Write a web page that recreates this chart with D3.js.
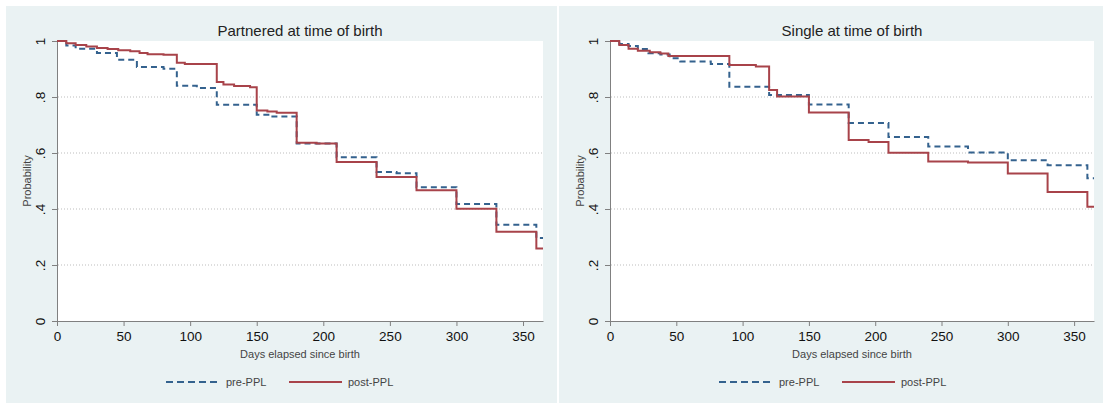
<!DOCTYPE html>
<html>
<head>
<meta charset="utf-8">
<script src="https://cdn.jsdelivr.net/npm/d3@7"></script>
<style>
  body { margin: 0; background: #fff; }
  svg { display: block; font-family: "Liberation Sans", Arial, sans-serif; }
</style>
</head>
<body>
<script>
// survival estimates: [day, probability], step after
var partneredPre = [[0,1],[7,.984],[14,.972],[30,.957],[45,.933],[60,.907],[80,.901],[90,.840],[105,.832],
  [120,.772],[150,.737],[160,.730],[180,.634],[210,.585],[240,.532],[255,.528],[270,.478],[300,.418],[330,.344],[360,.296]];
var partneredPost = [[0,1],[7,.992],[14,.986],[22,.980],[30,.975],[38,.971],[46,.967],[55,.963],[62,.957],[68,.953],
  [80,.951],[90,.922],[96,.918],[120,.854],[125,.845],[133,.839],[145,.835],[150,.752],[158,.748],[165,.744],
  [180,.637],[195,.634],[210,.568],[240,.514],[270,.467],[300,.401],[330,.319],[360,.259]];
var singlePre = [[0,1],[7,.989],[14,.982],[21,.971],[29,.956],[38,.952],[45,.938],[53,.927],[76,.918],[90,.837],
  [120,.807],[150,.773],[180,.707],[210,.657],[240,.623],[270,.602],[300,.574],[330,.556],[360,.510]];
var singlePost = [[0,1],[7,.986],[14,.972],[21,.965],[30,.960],[38,.955],[44,.946],[90,.914],[110,.909],[120,.825],
  [126,.802],[150,.745],[180,.646],[195,.639],[210,.601],[240,.570],[270,.566],[300,.527],[330,.461],[360,.408]];

var panelTitles = ["Partnered at time of birth", "Single at time of birth"];
var seriesNames = ["pre-PPL", "post-PPL"];
var xTicks = [0, 50, 100, 150, 200, 250, 300, 350];
var yTicks = [0, .2, .4, .6, .8, 1];
var yTickLabels = ["0", ".2", ".4", ".6", ".8", "1"];
var gridTicks = [.2, .4, .6, .8];
var maxDay = 365;

var width = 1103, height = 405,
    plotTop = 41, plotBottom = 321,
    bgColor = "#eaf2f3",
    preColor = "#34628e",
    postColor = "#a8434a";

var svg = d3.select("body").append("svg")
  .attr("width", width)
  .attr("height", height);

var panels = [
  {title: panelTitles[0], bg: [6, 557], left: 57, right: 543, pre: partneredPre, post: partneredPost},
  {title: panelTitles[1], bg: [559, 1103], left: 610, right: 1094, pre: singlePre, post: singlePost}
];

panels.forEach(function (p) {
  var g = svg.append("g");

  // panel background
  g.append("rect")
    .attr("x", p.bg[0]).attr("y", 6)
    .attr("width", p.bg[1] - p.bg[0]).attr("height", 397)
    .style("fill", bgColor);

  var x = d3.scaleLinear().domain([0, maxDay]).range([p.left, p.right]);
  var y = d3.scaleLinear().domain([0, 1]).range([plotBottom, plotTop]);

  // plot region
  g.append("rect")
    .attr("x", p.left).attr("y", plotTop)
    .attr("width", p.right - p.left).attr("height", plotBottom - plotTop)
    .style("fill", "#fff");

  // dotted grid
  g.selectAll(".grid")
    .data(gridTicks)
    .enter().append("line")
    .attr("x1", p.left + 1).attr("x2", p.right)
    .attr("y1", d => y(d)).attr("y2", d => y(d))
    .style("stroke", "#bdbdbd")
    .style("stroke-width", 1)
    .style("stroke-dasharray", "1,2");

  // x axis
  var xAxis = g.append("g")
    .attr("transform", `translate(0,${plotBottom})`)
    .call(d3.axisBottom(x).tickValues(xTicks).tickSize(5).tickSizeOuter(0).tickPadding(5));
  xAxis.select(".domain").style("stroke", "#808080");
  xAxis.selectAll(".tick line").style("stroke", "#808080");
  xAxis.selectAll("text")
    .style("font-size", "13.5px")
    .style("fill", "#111")
    .style("font-family", "Liberation Sans, Arial, sans-serif");

  // y axis with rotated labels
  var yAxis = g.append("g")
    .attr("transform", `translate(${p.left},0)`)
    .call(d3.axisLeft(y).tickValues(yTicks).tickSize(5).tickSizeOuter(0)
      .tickFormat((d, i) => yTickLabels[i]));
  yAxis.select(".domain").style("stroke", "#808080");
  yAxis.selectAll(".tick line").style("stroke", "#808080");
  yAxis.selectAll("text")
    .attr("x", null)
    .attr("dy", "0.35em")
    .attr("text-anchor", "middle")
    .attr("transform", "translate(-17,0) rotate(-90)")
    .style("font-size", "13.5px")
    .style("fill", "#111")
    .style("font-family", "Liberation Sans, Arial, sans-serif");

  // titles
  var cx = (p.left + p.right) / 2;
  g.append("text")
    .attr("x", cx).attr("y", 31).attr("dy", "0.35em")
    .attr("text-anchor", "middle")
    .style("font-size", "15px").style("fill", "#222")
    .text(p.title);

  g.append("text")
    .attr("x", cx).attr("y", 354).attr("dy", "0.35em")
    .attr("text-anchor", "middle")
    .style("font-size", "11px").style("fill", "#444")
    .text("Days elapsed since birth");

  g.append("text")
    .attr("transform", `translate(${p.left - 30},${(plotTop + plotBottom) / 2}) rotate(-90)`)
    .attr("dy", "0.35em")
    .attr("text-anchor", "middle")
    .style("font-size", "11px").style("fill", "#444")
    .text("Probability");

  // step curves
  var line = d3.line()
    .x(d => x(d[0]))
    .y(d => y(d[1]))
    .curve(d3.curveStepAfter);

  [{data: p.pre, color: preColor, dash: "6,4"}, {data: p.post, color: postColor, dash: null}]
    .forEach(function (s) {
      var pts = s.data.concat([[maxDay, s.data[s.data.length - 1][1]]]);
      g.append("path")
        .datum(pts)
        .attr("d", line)
        .style("fill", "none")
        .style("stroke", s.color)
        .style("stroke-width", 2)
        .style("stroke-dasharray", s.dash);
    });

  // legend
  var ly = 382;
  var legend = g.selectAll(".legend")
    .data(seriesNames)
    .enter().append("g")
    .attr("class", "legend")
    .attr("transform", (d, i) => `translate(${p.left + 109 + i * 123},${ly})`);

  legend.append("line")
    .attr("x1", 0).attr("x2", 53)
    .style("stroke", (d, i) => i === 0 ? preColor : postColor)
    .style("stroke-width", 2)
    .style("stroke-dasharray", (d, i) => i === 0 ? "7,4" : null);

  legend.append("text")
    .attr("x", (d, i) => i === 0 ? 60 : 59)
    .attr("dy", "0.35em")
    .style("font-size", "11px").style("fill", "#444")
    .text(d => d);
});
</script>
</body>
</html>
